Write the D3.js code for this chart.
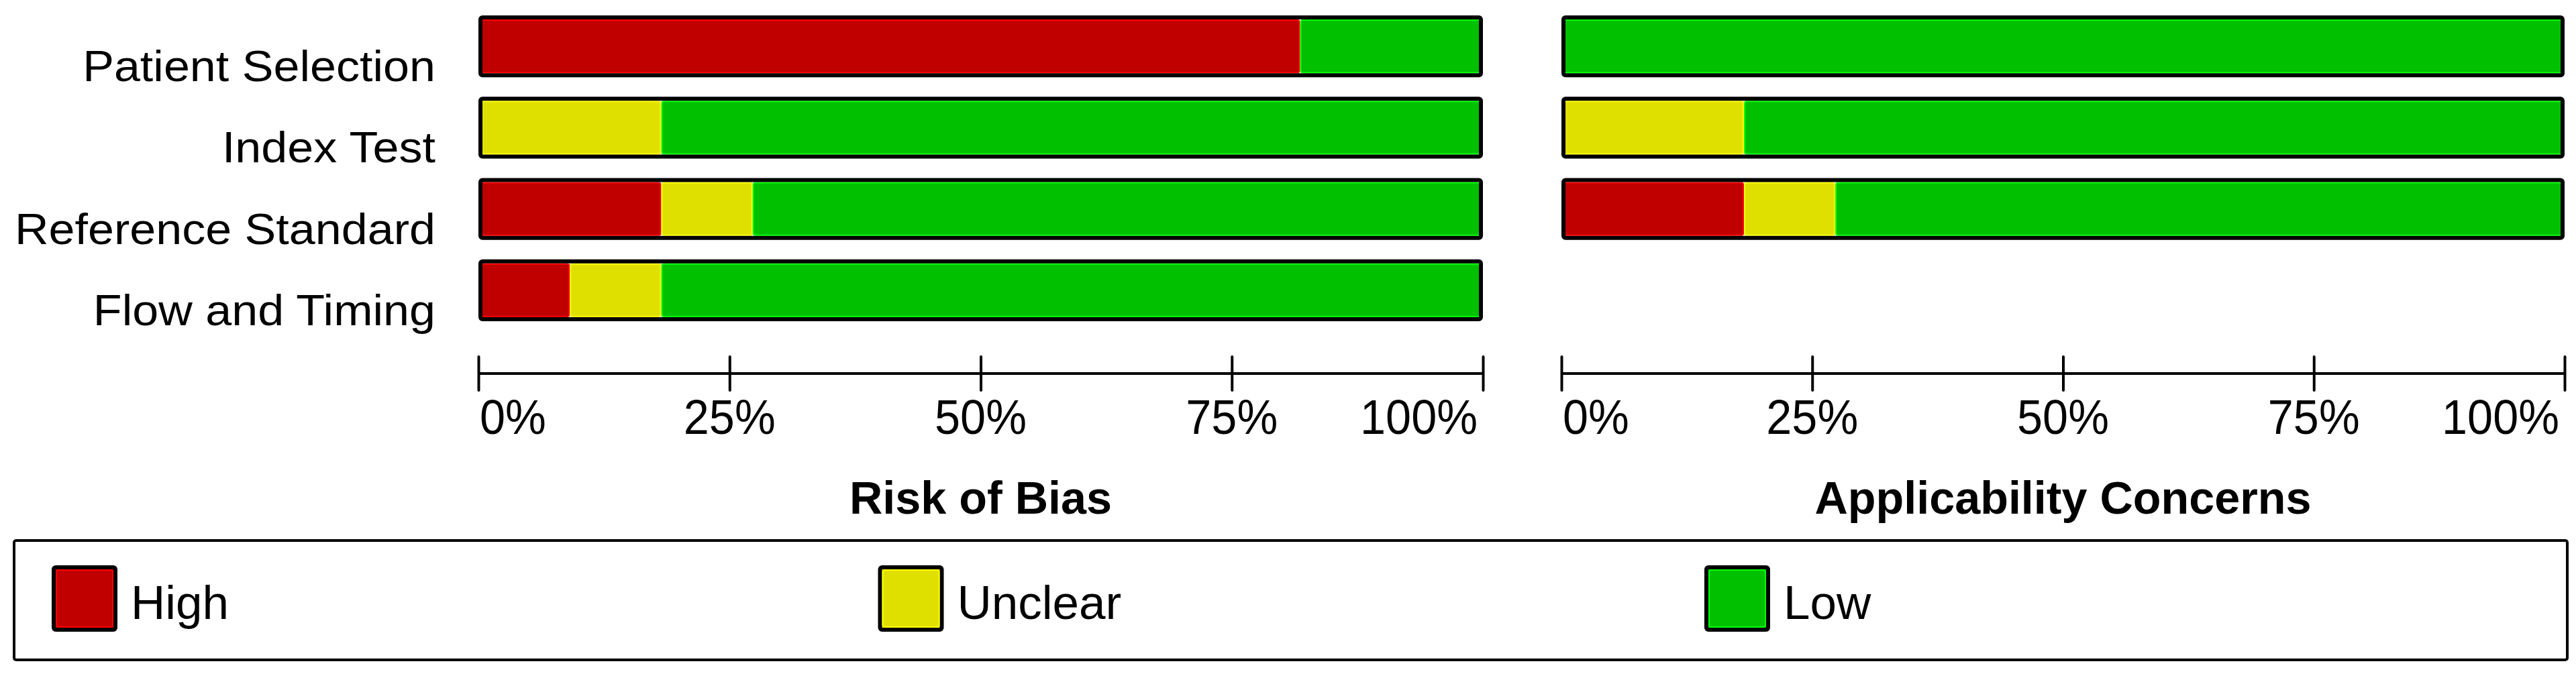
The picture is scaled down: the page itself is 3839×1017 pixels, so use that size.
<!DOCTYPE html>
<html>
<head>
<meta charset="utf-8">
<script src="https://cdn.jsdelivr.net/npm/d3@7"></script>
<style>
  html, body { margin: 0; padding: 0; background: #fff; }
  svg { display: block; font-family: "Liberation Sans", Arial, sans-serif; }
</style>
</head>
<body>
<svg id="chart" width="3839" height="1017"></svg>
<script>
// ---------------- data ----------------
const categories = ["Patient Selection", "Index Test", "Reference Standard", "Flow and Timing"];
const levels = ["High", "Unclear", "Low"];
// Risk of Bias (% of studies)
const riskHigh    = [81.8, 0.0, 18.2, 9.1];
const riskUnclear = [0.0, 18.2, 9.1, 9.1];
const riskLow     = [18.2, 81.8, 72.7, 81.8];
// Applicability Concerns (% of studies) – no Flow and Timing domain
const applCategories = ["Patient Selection", "Index Test", "Reference Standard"];
const applHigh    = [0.0, 0.0, 18.2];
const applUnclear = [0.0, 18.2, 9.1];
const applLow     = [100.0, 81.8, 72.7];
const tickValues = [0, 25, 50, 75, 100];
const tickLabels = ["0%", "25%", "50%", "75%", "100%"];
const panelTitles = ["Risk of Bias", "Applicability Concerns"];

// ---------------- styles ----------------
const fillDark  = { High: "#c00000", Unclear: "#e0e000", Low: "#00c000" };
const fillLight = { High: "#ff0000", Unclear: "#ffff00", Low: "#00ff00" };

const svg = d3.select("#chart");

const y = d3.scaleBand().domain(categories).range([23, 479]).paddingInner(0.24).paddingOuter(0);

function stretchedText(parent, x, yy, txt, opts) {
  const g = parent.append("g").attr("transform", `translate(${x},${yy}) scale(${opts.sx || 1},1)`);
  g.append("text")
    .attr("x", 0).attr("y", 0)
    .attr("text-anchor", opts.anchor || "start")
    .attr("font-size", opts.size)
    .attr("font-weight", opts.weight || "normal")
    .attr("fill", "#000")
    .text(txt);
  return g;
}

// row labels
categories.forEach(c => {
  stretchedText(svg, 649, y(c) + y.bandwidth() / 2 + 52, c, { anchor: "end", size: 64, sx: 1.095 });
});

function drawPanel(range, cats, high, unclear, low, title) {
  const x = d3.scaleLinear().domain([0, 100]).range(range);
  const rows = cats.map((c, i) => ({ cat: c, High: high[i], Unclear: unclear[i], Low: low[i] }));
  const stack = d3.stack().keys(levels)(rows);
  const g = svg.append("g");
  const h = y.bandwidth();

  stack.forEach(layer => {
    const key = layer.key;
    g.selectAll(null).data(layer.filter(d => d[1] - d[0] > 0)).enter()
      .append("rect")
      .attr("x", d => x(d[0]) + 1)
      .attr("y", d => y(d.data.cat) + 7)
      .attr("width", d => Math.max(0, x(d[1]) - x(d[0]) - 2))
      .attr("height", h - 14)
      .attr("rx", 3)
      .attr("fill", fillDark[key])
      .attr("stroke", fillLight[key])
      .attr("stroke-width", 2);
  });
  // outer black frame
  g.selectAll(null).data(rows).enter()
    .append("rect")
    .attr("x", x(0) + 3)
    .attr("y", d => y(d.cat) + 3)
    .attr("width", x(100) - x(0) - 6)
    .attr("height", h - 6)
    .attr("rx", 3)
    .attr("fill", "none")
    .attr("stroke", "#000")
    .attr("stroke-width", 6);

  // axis
  const axis = d3.axisBottom(x).tickValues(tickValues).tickFormat("").tickSizeOuter(0);
  const ag = svg.append("g").attr("transform", "translate(0,557)").call(axis);
  ag.select(".domain").attr("stroke", "#000").attr("stroke-width", 4)
    .attr("d", `M${x(0)},0H${x(100)}`);
  ag.selectAll(".tick line").attr("y1", -25).attr("y2", 25)
    .attr("stroke", "#000").attr("stroke-width", 4).attr("stroke-linecap", "round");
  ag.selectAll(".tick text").remove();
  tickValues.forEach((v, i) => {
    let anchor = "middle", xx = x(v);
    if (i === 0) { anchor = "start"; xx = x(v) + 2; }
    if (i === tickValues.length - 1) { anchor = "end"; xx = x(v) - 8; }
    stretchedText(svg, xx, 647, tickLabels[i], { anchor, size: 72, sx: 0.95 });
  });

  // title
  stretchedText(svg, (range[0] + range[1]) / 2, 766, title, { anchor: "middle", size: 69, weight: "bold", sx: 0.99 });
}

drawPanel([713, 2210], categories, riskHigh, riskUnclear, riskLow, panelTitles[0]);
drawPanel([2327, 3822], applCategories, applHigh, applUnclear, applLow, panelTitles[1]);

// ---------------- legend ----------------
svg.append("rect")
  .attr("x", 21).attr("y", 806).attr("width", 3805).attr("height", 178)
  .attr("rx", 3).attr("fill", "none").attr("stroke", "#000").attr("stroke-width", 4);

const legendX = d3.scalePoint().domain(levels).range([77, 2540]);
levels.forEach(k => {
  const lx = legendX(k);
  svg.append("rect").attr("x", lx + 3).attr("y", 846).attr("width", 92).attr("height", 93)
    .attr("rx", 3).attr("fill", fillDark[k]).attr("stroke", "#000").attr("stroke-width", 6);
  svg.append("rect").attr("x", lx + 7).attr("y", 850).attr("width", 84).attr("height", 85)
    .attr("rx", 3).attr("fill", "none").attr("stroke", fillLight[k]).attr("stroke-width", 2);
  stretchedText(svg, lx + 118, 923, k, { anchor: "start", size: 71, sx: 1.0 });
});
</script>
</body>
</html>
